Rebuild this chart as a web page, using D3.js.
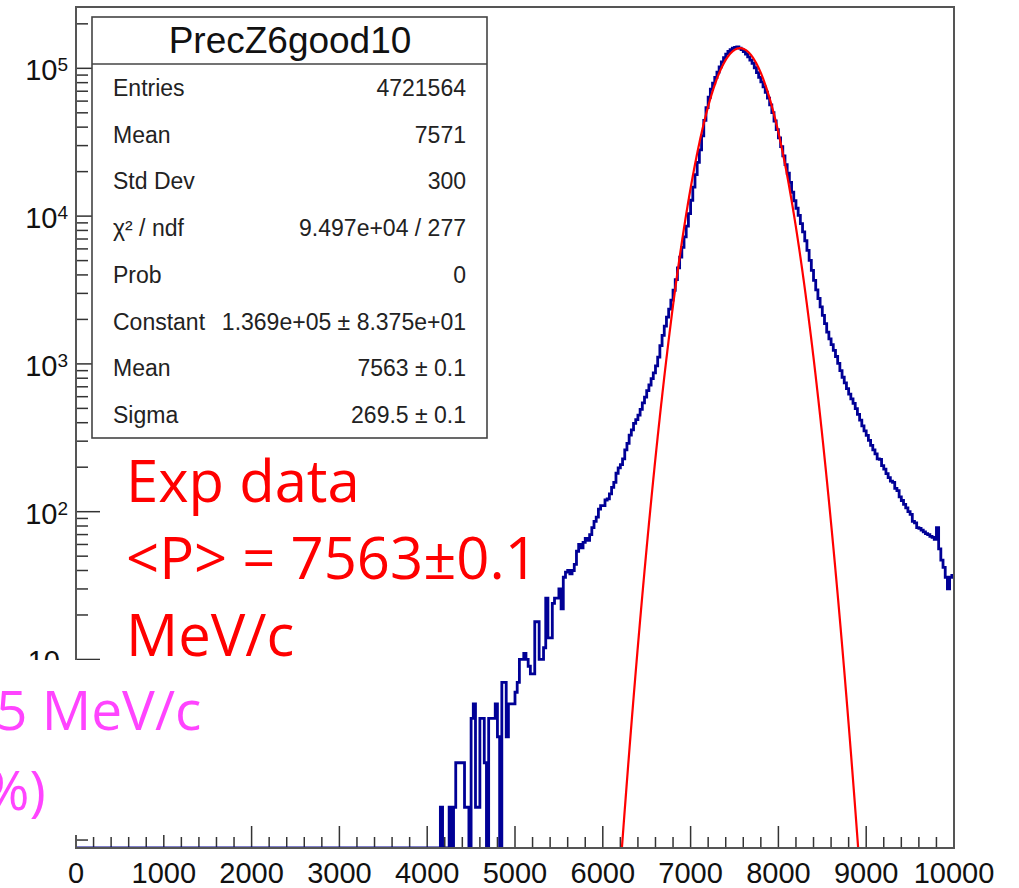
<!DOCTYPE html>
<html>
<head>
<meta charset="utf-8">
<script src="https://cdn.jsdelivr.net/npm/d3@7"></script>
<style>
body { margin: 0; background: #fff; }
</style>
</head>
<body>
<div id="chart"></div>
<script>

// histogram PrecZ6good10, 25 MeV/c bins, empty below firstBinLow
var binWidth = 25
var firstBinLow = 4150
var counts = [
    1,0,0,0,1,0,1,2,2,2,
    2,1,1,0,4,5,1,1,4,4,
    2,0,4,4,4,5,3,0,7,7,
    3,5,5,5,6,7,10,10,11,10,
    9,8,8,18,18,10,10,12,26,14,
    14,24,26,26,30,22,36,39,40,38,
    40,44,
    54,60,57,62, 66,64,70,78, 86,92,104,110, 110,120,122,132,
    146,158,182,198, 208,228,262,290, 330,358,396,420, 450,492,545,595,
    660,720,795,870, 970,1110,1330,1560, 1800,2070,2350,2700, 3150,3720,4460,5270,
    6150,7230,8550,10400, 12800,15700,19100,23100, 28100,34900,44400,54200,
    63700,72300,79300,86700, 94400,102300,110600,118300, 124700,130000,134000,137000,
    138500,139500,137000,134000, 130000,125000,119700,113800, 107900,100900,93500,86900,
    80900,74800,68900,62800, 56600,50200,44000,38500, 33800,29500,25600,22300,
    19500,16900,14500,12700, 11300,10100,8900,7830, 6810,5870,5020,4300,
    3670,3170,2770,2430, 2130,1870,1640,1475, 1350,1233,1122,1009,
    900,812,743,681, 625,579,540,498, 455,416,381,352,
    328,304,281,262, 246,228,226,205, 194,181,170,161,
    158,144,139,126, 119,112,106,100, 96,86,84,78,
    77,75,73,71, 70,68,67,65, 78,56,47,42, 36,30,36,37]

// gaus fit: constant, mean, sigma
var fitParams = [1.369e5, 7563, 269.5]

var xTicks = [0,1000,2000,3000,4000,5000,6000,7000,8000,9000,10000]
var yDecades = [1,10,100,1000,10000,100000]

var statsTitle = "PrecZ6good10"
var statLabels = ["Entries","Mean","Std Dev","χ² / ndf","Prob","Constant","Mean","Sigma"]
var statValues = ["4721564","7571","300","9.497e+04 / 277","0","1.369e+05 ± 8.375e+01","7563 ± 0.1","269.5 ± 0.1"]

var redNote = ["Exp data", "<P> = 7563±0.1", "MeV/c"]
var pinkNote = ["5 MeV/c", "%)"]

var width = 1019, height = 888
var fL = 76, fR = 954, fT = 7, fB = 848

var svg = d3.select("#chart").append("svg")
    .attr("width", width)
    .attr("height", height)
    .style("font-family", "'Liberation Sans', Arial, sans-serif");

svg.append("rect").attr("width", width).attr("height", height).attr("fill", "#fff");

var x = d3.scaleLinear().domain([0, 10000]).range([fL, fR]);
var y = d3.scaleLog().domain([0.53, 2.6e5]).range([fB, fT]);

svg.append("clipPath").attr("id", "frame")
    .append("rect").attr("x", fL).attr("y", fT)
    .attr("width", fR - fL).attr("height", fB - fT);

// y ticks, ROOT style (inside the frame)
var yMinor = [];
yDecades.concat([0.1]).forEach(function(d) {
    for (var m = 2; m <= 9; m++) {
        var v = d * m;
        if (v > y.domain()[0] && v < y.domain()[1]) yMinor.push(v);
    }
});
svg.selectAll(".ymin").data(yMinor).enter().append("line")
    .attr("x1", fL).attr("x2", fL + 12)
    .attr("y1", function(d) { return y(d); })
    .attr("y2", function(d) { return y(d); })
    .attr("stroke", "#333").attr("stroke-width", 1.5);
svg.selectAll(".ymaj").data(yDecades).enter().append("line")
    .attr("x1", fL).attr("x2", fL + 24)
    .attr("y1", function(d) { return y(d); })
    .attr("y2", function(d) { return y(d); })
    .attr("stroke", "#333").attr("stroke-width", 1.5);

var ylab = svg.selectAll(".ylab").data(yDecades).enter().append("text")
    .attr("y", function(d) { return y(d) + 12; })
    .attr("text-anchor", "end")
    .attr("font-size", "29px")
    .attr("fill", "#111");
ylab.append("tspan").text(function(d) { return d == 1 ? "1" : "10"; });
ylab.filter(function(d) { return d >= 100; })
    .append("tspan")
    .attr("dy", -9)
    .attr("font-size", "19px")
    .text(function(d) { return Math.round(Math.log10(d)); });
ylab.attr("x", function(d) { return d >= 100 ? 68 : 60; });

// x ticks
var xMinor = d3.range(200, 10000, 200).filter(function(d) { return d % 1000 != 0; });
svg.selectAll(".xmin").data(xMinor).enter().append("line")
    .attr("x1", function(d) { return x(d); })
    .attr("x2", function(d) { return x(d); })
    .attr("y1", fB).attr("y2", fB - 11)
    .attr("stroke", "#333").attr("stroke-width", 1.5);
svg.selectAll(".xmaj").data(xTicks).enter().append("line")
    .attr("x1", function(d) { return x(d); })
    .attr("x2", function(d) { return x(d); })
    .attr("y1", fB).attr("y2", fB - 22)
    .attr("stroke", "#333").attr("stroke-width", 1.5);
svg.selectAll(".xlab").data(xTicks).enter().append("text")
    .attr("x", function(d) { return x(d); })
    .attr("y", 883)
    .attr("text-anchor", "middle")
    .attr("font-size", "29px")
    .attr("fill", "#111")
    .text(function(d) { return d; });

// histogram as a step line
var nBins = 10000 / binWidth;
var first = (firstBinLow / binWidth);
var histPts = [];
for (var i = 0; i < nBins; i++) {
    var c = (i >= first && i - first < counts.length) ? counts[i - first] : 0;
    histPts.push([i * binWidth, c]);
}
histPts.push([10000, histPts[histPts.length - 1][1]]);

var histLine = d3.line()
    .x(function(d) { return x(d[0]); })
    .y(function(d) { return d[1] > 0 ? y(d[1]) : fB; })
    .curve(d3.curveStepAfter);

svg.append("path")
    .attr("clip-path", "url(#frame)")
    .attr("d", histLine(histPts))
    .attr("fill", "none")
    .attr("stroke", "#000096")
    .attr("stroke-width", 2.8);

// gaussian fit curve
var fitPts = d3.range(0, 10001, 5).map(function(v) {
    var t = (v - fitParams[1]) / fitParams[2];
    return [v, fitParams[0] * Math.exp(-0.5 * t * t)];
});
var fitLine = d3.line()
    .x(function(d) { return x(d[0]); })
    .y(function(d) { return y(Math.max(d[1], 1e-3)); });
svg.append("path")
    .attr("clip-path", "url(#frame)")
    .attr("d", fitLine(fitPts))
    .attr("fill", "none")
    .attr("stroke", "#ff0000")
    .attr("stroke-width", 2.2);

// frame
svg.append("rect")
    .attr("x", fL).attr("y", fT)
    .attr("width", fR - fL).attr("height", fB - fT)
    .attr("fill", "none")
    .attr("stroke", "#555")
    .attr("stroke-width", 2);

// stats box
var sb = svg.append("g");
sb.append("rect")
    .attr("x", 92).attr("y", 17).attr("width", 395).attr("height", 421)
    .attr("fill", "#fff").attr("stroke", "#444").attr("stroke-width", 1.6);
sb.append("line")
    .attr("x1", 92).attr("x2", 487).attr("y1", 64).attr("y2", 64)
    .attr("stroke", "#444").attr("stroke-width", 1.6);
sb.append("text")
    .attr("x", 290).attr("y", 53)
    .attr("text-anchor", "middle")
    .attr("font-size", "37px")
    .attr("fill", "#111")
    .text(statsTitle);
sb.selectAll(".slab").data(statLabels).enter().append("text")
    .attr("x", 113)
    .attr("y", function(d, i) { return 96 + i * 46.7; })
    .attr("font-size", "23px")
    .attr("fill", "#222")
    .text(function(d) { return d; });
sb.selectAll(".sval").data(statValues).enter().append("text")
    .attr("x", 466)
    .attr("y", function(d, i) { return 96 + i * 46.7; })
    .attr("text-anchor", "end")
    .attr("font-size", "23px")
    .attr("fill", "#222")
    .text(function(d) { return d; });

// red annotation
svg.selectAll(".red").data(redNote).enter().append("text")
    .attr("x", 126)
    .attr("y", function(d, i) { return 502 + i * 77; })
    .attr("font-family", "'Open Sans', sans-serif")
    .attr("font-size", "58px")
    .attr("fill", "#ff0000")
    .text(function(d) { return d; });

// pasted label box covering the lower left
svg.append("rect")
    .attr("x", 0).attr("y", 660).attr("width", 215).attr("height", 175)
    .attr("fill", "#fff");
svg.selectAll(".pink").data(pinkNote).enter().append("text")
    .attr("x", function(d, i) { return i == 0 ? -4 : -16; })
    .attr("y", function(d, i) { return 730 + i * 80; })
    .attr("font-family", "'Open Sans', sans-serif")
    .attr("font-size", "55px")
    .attr("fill", "#ff44ff")
    .text(function(d) { return d; });

</script>
</body>
</html>
